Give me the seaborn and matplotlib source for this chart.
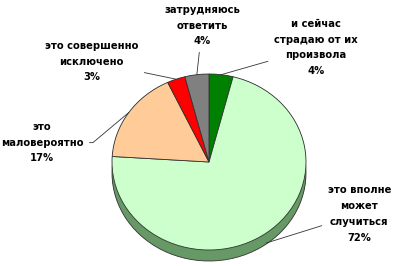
import numpy as np
import matplotlib
matplotlib.use("Agg")
import matplotlib.pyplot as plt
import seaborn as sns

# ---- data ----
categories = ["и сейчас\nстрадаю от их\nпроизвола",
              "это вполне\nможет\nслучиться",
              "это\nмаловероятно",
              "это совершенно\nисключено",
              "затрудняюсь\nответить"]
values = [4, 72, 17, 3, 4]
pct_labels = ["4%", "72%", "17%", "3%", "4%"]

colors = ["#008000", "#CCFFCC", "#FFCC99", "#FF0000", "#808080"]
side_color = "#669966"

# label positions (in pie data units, radius = 1)
label_pos = [(1.10, 1.30), (1.55, -0.59), (-1.72, 0.22), (-1.21, 1.14), (-0.07, 1.55)]
connections = ["arc3", "arc3", "angle,angleA=0,angleB=40,rad=0", "arc3", "arc3"]

sns.set_theme(style="white")
plt.rcParams['font.family'] = ['DejaVu Sans']

fig = plt.figure(figsize=(4.0, 2.66), dpi=100)
ax = fig.add_axes([0, 0, 1, 1])

depth = 0.125
# side of the 3D pie: stacked layers
for d in np.linspace(depth, 0.0, 14):
    ax.pie(values, colors=[side_color] * len(values),
           startangle=90, counterclock=False, center=(0, -d),
           wedgeprops=dict(linewidth=0))
# outline of bottom
ax.pie(values, colors=["none"] * len(values), startangle=90, counterclock=False,
       center=(0, -depth), wedgeprops=dict(linewidth=0.6, edgecolor="#333333", fill=False))
wedges, _ = ax.pie(values, colors=colors, startangle=90, counterclock=False,
                   wedgeprops=dict(linewidth=0.6, edgecolor="#333333"))

ax.set_aspect('auto')
ax.set_xlim(-209 / 97, (400 - 209) / 97)
ax.set_ylim(-104 / 88, 162 / 88)
ax.axis('off')

for w, cat, pct, pos, conn in zip(wedges, categories, pct_labels, label_pos, connections):
    ang = np.deg2rad((w.theta1 + w.theta2) / 2)
    x, y = np.cos(ang), np.sin(ang)
    if y < 0:
        y -= depth * 0.9
    ax.annotate(cat + "\n" + pct, xy=(x, y), xytext=pos,
                ha='center', va='center', fontsize=7.2, fontweight='bold',
                linespacing=1.72, color='black',
                arrowprops=dict(arrowstyle='-', color='#333333', lw=0.6,
                                shrinkA=2, shrinkB=0, connectionstyle=conn))

fig.savefig("out.png", dpi=100)
